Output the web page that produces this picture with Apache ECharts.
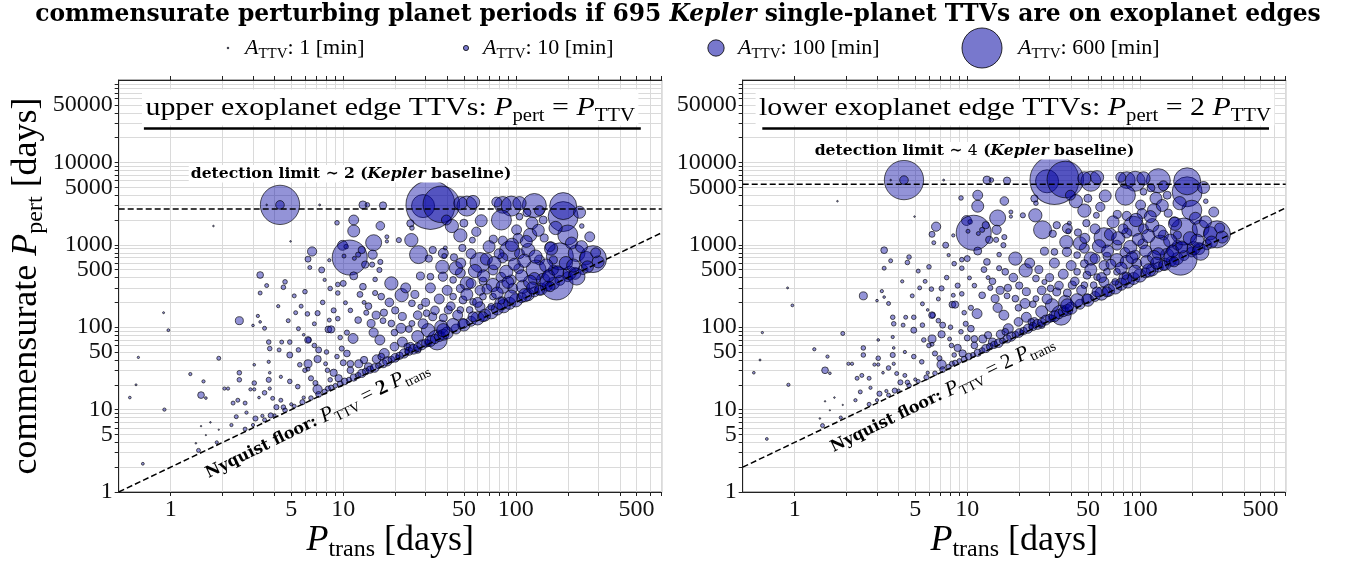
<!DOCTYPE html>
<html>
<head>
<meta charset="utf-8">
<title>commensurate perturbing planet periods</title>
<script src="https://cdn.jsdelivr.net/npm/echarts@6.0.0/dist/echarts.min.js"></script>
<style>
  html, body { margin: 0; padding: 0; background: #fff; }
  #chart { width: 1356px; height: 563px; }
</style>
</head>
<body>
<div id="chart"></div>
<script>
// ---- data ----
// each planet: [P_trans (days), P_TTV (days), A_TTV (min)]
const planets = [
    [0.91, 150, 1.5], [0.97, 92, 3], [0.65, 43, 2], [0.63, 20, 1.5], [0.58, 14, 2.7], [0.92, 10, 4], [0.69, 2.2, 3],
    [2.5, 120, 24], [3.3, 260, 6], [3.6, 320, 6], [4.5, 305, 8], [4.6, 355, 8], [5.2, 240, 6], [5.7, 180, 6], [6.2, 145, 8], [7.1, 148, 10],
    [3.2, 137, 4], [3.0, 105, 2.7], [3.3, 116, 2.7], [3.5, 97, 6], [5.5, 96, 6], [5.9, 81, 2.7], [6.3, 70, 10], [8.2, 94, 17], [8.3, 122, 6], [8.4, 295, 8], [9.3, 330, 8],
    [1.9, 42, 6], [1.3, 27, 4], [1.5, 15, 17], [1.6, 13.8, 2.7], [1.55, 22, 4], [2.05, 18, 4], [2.15, 18, 4], [2.5, 28, 8], [2.5, 23, 8], [3.05, 35, 2.7], [3.05, 21, 8],
    [3.7, 66, 8], [3.75, 55, 8], [3.7, 38, 4], [3.75, 28, 2.7], [3.7, 23, 10], [4.25, 53, 6], [4.4, 66, 6], [4.35, 25, 4], [4.9, 66, 8], [4.9, 46, 13.5],
    [5.5, 53, 8], [5.6, 35, 8], [6.25, 70, 17], [6.25, 36, 24], [6.0, 30, 8], [6.5, 24, 10], [4.9, 22, 8], [5.45, 19, 8],
    [3.75, 18, 4], [3.5, 16, 8], [3.25, 14, 2.7], [3.05, 17.6, 4], [2.9, 17.6, 4], [2.45, 13, 6], [2.3, 12, 6], [2.7, 12, 6], [2.75, 9.2, 4], [2.4, 8.2, 6],
    [2.25, 6.5, 4], [3.1, 7.8, 10], [2.7, 5.8, 6], [1.85, 4, 4], [1.45, 3.2, 6], [1.4, 3.9, 1], [1.7, 7, 1], [1.5, 6.3, 0.8], [1.6, 4.9, 0.6], [1.9, 5.7, 0.7],
    [3.9, 13.7, 6], [4.1, 10.7, 10], [4.35, 13, 6], [4.5, 10.7, 8], [3.8, 8.5, 10], [3.4, 8.4, 4], [5.0, 11.6, 4], [5.9, 14, 4], [7.1, 17.6, 32], [6.9, 21, 10],
    [8.15, 18, 10], [9.4, 24, 20], [8.8, 28, 20], [7.1, 41, 20], [7.2, 53, 13.5], [8.0, 50, 8], [9.2, 44, 8], [10.5, 48, 17], [10, 37, 13.5], [11, 36, 17],
    [12.3, 36, 24], [14, 33, 24], [15.6, 41, 28], [17.3, 48, 37], [19.8, 58, 28], [22, 66, 37], [24.5, 58, 28], [27, 77, 54], [31, 92, 66], [35, 70, 150], [37, 101, 66],
    [8.5, 94, 20], [10.5, 86, 10], [11.4, 73, 37], [12.2, 122, 17], [13.6, 150, 10], [14.5, 111, 24], [15, 86, 32], [16.3, 70, 37], [17.2, 150, 20], [16.6, 235, 17],
    [11, 160, 8], [10, 340, 13.5], [13, 310, 17], [19, 340, 66], [21.8, 245, 66], [28, 177, 10], [33, 134, 24], [25, 111, 13.5], [21.6, 97, 37], [19.8, 86, 17], [27, 53, 17],
    [6.25, 31, 6], [8.4, 23, 8], [8.1, 30, 8], [6.8, 60, 8], [11, 30, 17], [13.2, 40, 20], [16.6, 44, 17], [9.3, 127, 8], [15.3, 260, 10], [13.2, 200, 6],
    [10.3, 198, 6], [9.3, 260, 8], [25, 195, 17], [30.4, 148, 17], [19, 111, 17], [23.5, 58, 17], [31, 64, 17], [23.5, 50, 8], [20.7, 43, 8],
    // crowd just above the Nyquist floor
    [8.5, 18.5, 10], [9, 19.5, 8], [9.6, 20.5, 13], [10.2, 22, 17], [10.8, 23, 10], [11.5, 24.5, 20], [12.2, 26, 13], [12.8, 27.5, 24], [13.5, 29, 17], [14.3, 30.5, 20],
    [15.2, 32, 28], [16, 34, 13], [17, 36, 24], [18, 38.5, 32], [19, 40.5, 17], [20, 42.5, 28], [21.2, 45, 20], [22.5, 48, 32], [24, 51, 24], [25.5, 54, 37],
    [27, 57, 28], [28.5, 61, 37], [30, 64, 24], [32, 68, 45], [34, 72, 32], [36, 77, 37], [38, 81, 45], [40, 85, 54],
    [3, 6.5, 4], [3.5, 7.5, 6], [4, 8.5, 4], [4.6, 9.8, 8], [5.2, 11, 6], [5.8, 12.3, 10], [6.5, 13.8, 8], [7.2, 15.3, 13], [7.8, 16.5, 10],
    [45, 95, 37], [50, 106, 54], [55, 118, 37], [60, 128, 66], [66, 140, 54], [72, 152, 66], [78, 166, 54], [85, 180, 66], [92, 195, 54], [100, 212, 66],
    [108, 228, 37], [118, 248, 54], [128, 268, 37], [140, 290, 54], [152, 315, 37], [165, 340, 54], [180, 370, 37], [200, 410, 37], [220, 450, 54], [245, 500, 37],
    // upper part, P_trans < 40 d
    [4.3, 3050, 580], [4.3, 3050, 28], [3.6, 3050, 1], [7.3, 3050, 1.5], [4.95, 1100, 1], [1.77, 1690, 1], [13, 3050, 24], [17, 3000, 20], [13.8, 3050, 8],
    [29, 2950, 200], [32, 3050, 900], [37, 3100, 500],
    [9.2, 1850, 8], [11.5, 2000, 37], [11.5, 1470, 54], [16.4, 1700, 28], [17.9, 1250, 6], [24.5, 1820, 20], [25, 1600, 8], [15, 1060, 96], [9.9, 985, 37],
    [10.4, 950, 8], [10.9, 700, 460], [6.6, 830, 32], [6.25, 670, 13.5], [6.4, 530, 6], [7.5, 495, 13.5], [8.3, 650, 4], [10.1, 730, 6], [11.6, 685, 6],
    [12.2, 760, 10], [12.8, 865, 20], [13.4, 575, 20], [14.7, 575, 10], [14.8, 760, 32], [16.4, 620, 10], [16.2, 495, 10], [17.9, 1100, 4], [21, 1140, 10],
    [24.8, 1140, 66], [27.3, 760, 121], [33, 865, 20], [31.3, 680, 20], [38, 790, 37], [37.5, 540, 66], [15.3, 380, 8], [28, 418, 24], [32, 410, 17],
    [37.8, 410, 32], [3.3, 430, 17], [7.8, 375, 4],
    // upper part, P_trans > 40 d
    [52, 2950, 150], [56.5, 3300, 66], [47.7, 3200, 66], [63, 1960, 54], [59, 1440, 32], [56, 1140, 13.5], [47.7, 1300, 66], [42.6, 1690, 66], [50, 1830, 24],
    [39.6, 2000, 37], [49, 915, 20], [39, 915, 6], [43.8, 705, 20], [38.5, 730, 10], [62, 610, 150], [67.5, 670, 54], [74, 1170, 24], [84, 1120, 32],
    [84, 3050, 105], [94, 2950, 150], [82.5, 2000, 150], [105, 2200, 17], [101, 1520, 37], [103, 1200, 37], [92, 840, 150], [84, 695, 37], [73.7, 495, 37],
    [82, 403, 37], [104, 513, 37], [105, 780, 37], [118, 865, 66], [121, 1315, 66], [124, 1830, 54], [128, 3000, 216], [116, 2450, 24], [144, 2000, 24],
    [146, 1210, 24], [137, 655, 37], [131, 495, 150], [144, 375, 66], [128, 390, 54], [172, 340, 410], [165, 495, 37], [188, 2200, 337], [188, 2950, 273],
    [234, 2480, 54], [200, 1315, 150], [268, 1250, 37], [180, 725, 273], [225, 790, 105], [256, 690, 66], [280, 670, 273], [205, 455, 66], [225, 410, 105],
    [165, 655, 24], [158, 950, 37], [241, 1690, 8], [137, 2600, 37], [105, 3200, 66], [77.5, 3300, 37],
    [52, 340, 66], [47.7, 455, 37], [43.3, 375, 17], [47.7, 295, 24], [55, 340, 37], [62, 280, 37], [64.5, 363, 24], [73.7, 325, 66], [84, 310, 66],
    [96, 297, 37], [110, 310, 66], [121, 355, 66], [113, 245, 66], [94, 235, 66], [82.5, 195, 66], [73.7, 235, 17], [64.5, 235, 17], [56.5, 203, 17],
    [49.4, 214, 24], [43.3, 235, 17], [40.6, 162, 24], [47.7, 162, 17], [54, 162, 17], [62, 177, 37], [72, 177, 17], [64.5, 134, 37], [56.5, 134, 37],
    [49.4, 111, 37], [43.3, 106, 66], [38, 92, 66], [82.5, 209, 17], [94, 375, 37], [158, 310, 37], [137, 280, 37],
    // dense middle of the cloud
    [11.5, 420, 24], [12.5, 250, 13], [14, 180, 17], [15.5, 140, 24], [17, 120, 13], [18.5, 200, 28], [20, 160, 20], [22, 135, 24], [23, 300, 37], [24, 95, 17],
    [26, 250, 24], [27, 140, 28], [29, 110, 37], [30, 200, 24], [32, 300, 37], [34, 160, 28], [36, 220, 37], [38, 130, 24], [40, 280, 37], [42, 180, 28],
    [45, 520, 66], [46, 140, 37], [48, 600, 37], [52, 250, 54], [55, 780, 37], [58, 480, 66], [60, 200, 37], [65, 420, 54], [68, 290, 37], [70, 950, 54],
    [75, 600, 66], [78, 260, 54], [80, 780, 37], [88, 470, 66], [90, 350, 54], [95, 1000, 66], [98, 580, 54], [108, 420, 54], [112, 640, 66], [115, 1100, 54],
    [125, 300, 54], [130, 720, 66], [135, 1500, 54], [150, 560, 66], [155, 420, 54], [160, 900, 66], [170, 1600, 66], [175, 470, 54], [195, 600, 66],
    [210, 1050, 54], [215, 560, 66], [240, 950, 54], [260, 540, 54], [300, 620, 54], [290, 800, 37],
    [5.3, 150, 6], [6, 270, 8], [6.8, 110, 6], [7.6, 200, 8], [8.8, 160, 10], [9.6, 75, 8], [4.2, 180, 4], [4.8, 120, 6], [7.9, 36, 6], [9.8, 55, 10]
];

// legend amplitudes (min)
const legendAmps = [1, 10, 100, 600];
// tick labels
const xTickLabels = [1, 5, 10, 50, 100, 500];
const yTickLabels = [1, 5, 10, 50, 100, 500, 1000, 5000, 10000, 50000];
// axis ranges
const xRange = [0.5, 700];
const yRange = [1, 100000];
// Kepler baseline (days); the detection limits are 2x and 4x of it
const keplerBaseline = 1360;

// ---- helpers ----
const serif = 'Liberation Serif';
const boldSerif = 'DejaVu Serif';
const ink = '#000';
const bubbleFill = 'rgba(0, 0, 160, 0.53)';
const bubbleEdge = 'rgba(0, 0, 0, 0.8)';

// marker diameter in px, area proportional to A_TTV
function bubbleSize(a) {
    return 1.633 * Math.sqrt(a);
}

// 1..9 x 10^k between lo and hi
function logSteps(lo, hi) {
    const out = [];
    for (let d = lo; d < hi; d *= 10) {
        for (let m = 1; m < 10; m++) {
            if (m * d <= hi) out.push(m * d);
        }
    }
    return out;
}

function tok(size, extra) {
    return Object.assign({
        fontFamily: serif, fontSize: size, lineHeight: size,
        verticalAlign: 'top', color: ink, fill: ink
    }, extra);
}

// rich styles for text with subscripts
function mathRich(size, subSize, subDrop) {
    const subCenter = size / 2 + 0.3375 * size + subDrop - 0.3375 * subSize;
    return {
        rm: tok(size),
        it: tok(size, {fontStyle: 'italic'}),
        bf: tok(size, {fontWeight: 'bold'}),
        sub: tok(subSize, {padding: [subCenter - subSize / 2, 0, 0, 0]})
    };
}

const xTickValues = logSteps(1, 700);
const yTickValues = logSteps(1, 100000);

function xAxisFor(grid, top, withName) {
    return {
        type: 'log', logBase: 10, gridIndex: grid,
        min: xRange[0], max: xRange[1],
        position: top ? 'top' : 'bottom',
        axisLine: {show: true, onZero: false, lineStyle: {color: '#222', width: 1}},
        axisTick: {show: true, inside: false, length: 4, customValues: xTickValues, lineStyle: {color: '#222'}},
        axisLabel: top ? {show: false} : {
            show: true, customValues: xTickLabels, margin: 6,
            formatter: v => String(Math.round(v)),
            fontFamily: serif, fontSize: 24, color: '#111'
        },
        splitLine: {show: !top, lineStyle: {color: '#dadada', width: 1}},
        name: withName ? '{it|P}{sub|trans}{rm| [days]}' : '',
        nameLocation: 'middle', nameGap: 31, nameMoveOverlap: false,
        nameTextStyle: {rich: mathRich(36, 24, 5)}
    };
}

function yAxisFor(grid, withName) {
    return {
        type: 'log', logBase: 10, gridIndex: grid,
        min: yRange[0], max: yRange[1],
        axisLine: {show: true, onZero: false, lineStyle: {color: '#222', width: 1}},
        axisTick: {show: true, inside: false, length: 4, customValues: yTickValues, lineStyle: {color: '#222'}},
        axisLabel: {
            show: true, customValues: yTickLabels, margin: 6,
            formatter: v => String(Math.round(v)),
            fontFamily: serif, fontSize: 24, color: '#111'
        },
        splitLine: {show: true, lineStyle: {color: '#dadada', width: 1}},
        name: withName ? '{rm|commensurate }{it|P}{sub|pert}{rm| [days]}' : '',
        nameLocation: 'middle', nameRotate: 90, nameGap: 74, nameMoveOverlap: false,
        nameTextStyle: {rich: mathRich(36, 24, 5)}
    };
}

// two panels: upper edge P_pert = P_TTV, lower edge P_pert = 2 P_TTV
const panels = [
    {factor: 1, limitFactor: 2, left: 118.7},
    {factor: 2, limitFactor: 4, left: 742.7}
];

const series = [];
panels.forEach((p, i) => {
    series.push({
        type: 'scatter', xAxisIndex: 2 * i, yAxisIndex: i,
        data: planets.map(d => [d[0], p.factor * d[1], d[2]]),
        symbol: 'circle',
        symbolSize: v => bubbleSize(v[2]),
        itemStyle: {color: bubbleFill, borderColor: bubbleEdge, borderWidth: 1},
        silent: true, z: 3
    });
    // detection limit
    const lim = p.limitFactor * keplerBaseline;
    series.push({
        type: 'line', xAxisIndex: 2 * i, yAxisIndex: i,
        data: [[xRange[0], lim], [xRange[1], lim]],
        symbol: 'none', silent: true, z: 4,
        lineStyle: {color: '#000', width: 1.5, type: [6, 3]}
    });
    // Nyquist floor: P_TTV = 2 P_trans
    series.push({
        type: 'line', xAxisIndex: 2 * i, yAxisIndex: i,
        data: [[xRange[0], 2 * p.factor * xRange[0]], [xRange[1], 2 * p.factor * xRange[1]]],
        symbol: 'none', silent: true, z: 4,
        lineStyle: {color: '#000', width: 1.5, type: [6, 3]}
    });
});

// ---- annotations ----
const legendRich = mathRich(22, 15, 4);
const panelRich = mathRich(26, 18, 5);
const nyqRich = mathRich(21, 14, 4);
nyqRich.b = tok(16, {fontFamily: boldSerif, fontWeight: 'bold', lineHeight: 21, padding: [3, 0, 0, 0]});
const detRich = {
    b: tok(15.6, {fontFamily: boldSerif, fontWeight: 'bold'}),
    bi: tok(15.6, {fontFamily: boldSerif, fontWeight: 'bold', fontStyle: 'italic'}),
    r: tok(15.6, {fontFamily: boldSerif})
};

const legendMarkX = [228, 466, 716, 982];
const legendTextX = [245, 483, 738, 1018];

const graphics = [];
legendAmps.forEach((a, i) => {
    graphics.push({
        type: 'circle', silent: true,
        shape: {cx: legendMarkX[i], cy: 48, r: bubbleSize(a) / 2},
        style: {fill: bubbleFill, stroke: bubbleEdge, lineWidth: 1}
    });
    graphics.push({
        type: 'text', silent: true, x: legendTextX[i], y: 37,
        style: {text: '{it|A}{sub|TTV}{rm|: ' + a + ' [min]}', rich: legendRich, align: 'left', verticalAlign: 'top'}
    });
});

// panel headings, on a white box like the reference, with an underline
graphics.push(
    {
        type: 'text', silent: true, z: 10, x: 390.2, y: 89.5, scaleX: 1.15,
        style: {
            text: '{rm|upper exoplanet edge TTVs: }{it|P}{sub|pert}{rm| = }{it|P}{sub|TTV}', rich: panelRich,
            align: 'center', verticalAlign: 'top', backgroundColor: '#fff', padding: [6, 3, 4, 3]
        }
    },
    {type: 'line', silent: true, z: 11, shape: {x1: 143.9, y1: 128.5, x2: 640.8, y2: 128.5}, style: {stroke: '#000', lineWidth: 2.5}},
    {
        type: 'text', silent: true, z: 10, x: 1015, y: 89.5, scaleX: 1.15,
        style: {
            text: '{rm|lower exoplanet edge TTVs: }{it|P}{sub|pert}{rm| = 2 }{it|P}{sub|TTV}', rich: panelRich,
            align: 'center', verticalAlign: 'top', backgroundColor: '#fff', padding: [6, 3, 4, 3]
        }
    },
    {type: 'line', silent: true, z: 11, shape: {x1: 762.3, y1: 128.5, x2: 1269, y2: 128.5}, style: {stroke: '#000', lineWidth: 2.5}}
);

// detection limit labels
graphics.push(
    {
        type: 'text', silent: true, z: 10, x: 351, y: 165,
        style: {
            text: '{b|detection limit ∼ 2 (}{bi|Kepler}{b| baseline)}', rich: detRich,
            align: 'center', verticalAlign: 'top', backgroundColor: '#fff', padding: [1, 2, 1, 2]
        }
    },
    {
        type: 'text', silent: true, z: 10, x: 974.5, y: 142,
        style: {
            text: '{b|detection limit ∼ }{r|4}{b| (}{bi|Kepler}{b| baseline)}', rich: detRich,
            align: 'center', verticalAlign: 'top', backgroundColor: '#fff', padding: [1, 2, 1, 2]
        }
    }
);

// Nyquist floor labels, along the dashed line
graphics.push(
    {
        type: 'text', silent: true, z: 10, x: 317, y: 420, rotation: 0.454,
        style: {text: '{b|Nyquist floor: }{it|P}{sub|TTV}{rm| = }{bf|2}{rm| }{it|P}{sub|trans}', rich: nyqRich, align: 'center', verticalAlign: 'middle'}
    },
    {
        type: 'text', silent: true, z: 10, x: 942, y: 394, rotation: 0.454,
        style: {text: '{b|Nyquist floor: }{it|P}{sub|TTV}{rm| = 2 }{it|P}{sub|trans}', rich: nyqRich, align: 'center', verticalAlign: 'middle'}
    }
);

const chart = echarts.init(document.getElementById('chart'), null, {renderer: 'canvas'});
chart.setOption({
    animation: false,
    backgroundColor: '#fff',
    title: {
        text: '{b|commensurate perturbing planet periods if 695 }{bi|Kepler}{b| single-planet TTVs are on exoplanet edges}',
        left: 'center', top: 3, padding: 0,
        textStyle: {
            rich: {
                b: tok(23.4, {fontFamily: boldSerif, fontWeight: 'bold'}),
                bi: tok(23.4, {fontFamily: boldSerif, fontWeight: 'bold', fontStyle: 'italic'})
            }
        }
    },
    grid: panels.map(p => ({
        left: p.left, top: 80, width: 543, height: 412,
        show: true, borderColor: '#666', borderWidth: 1,
        outerBoundsMode: 'none', containLabel: false
    })),
    xAxis: [
        xAxisFor(0, false, true), xAxisFor(0, true, false),
        xAxisFor(1, false, true), xAxisFor(1, true, false)
    ],
    yAxis: [yAxisFor(0, true), yAxisFor(1, false)],
    series: series,
    graphic: graphics
});
</script>
</body>
</html>
